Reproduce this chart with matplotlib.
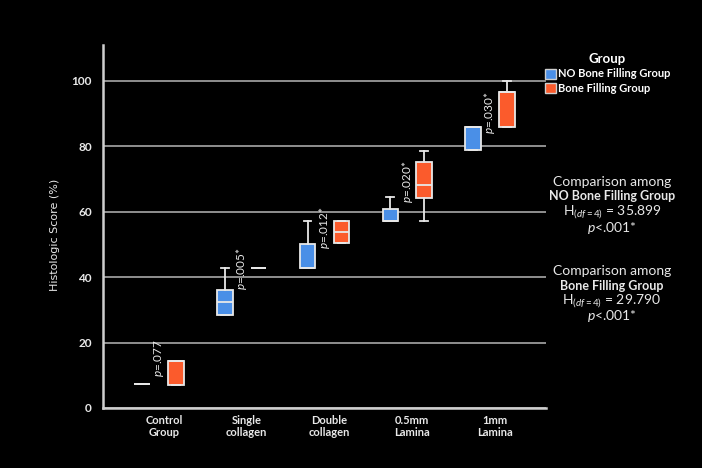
import numpy as np
import matplotlib.pyplot as plt
from matplotlib.patches import Patch

categories = ["Control\nGroup", "Single\ncollagen", "Double\ncollagen", "0.5mm\nLamina", "1mm\nLamina"]

# NO Bone Filling Group (blue)
no_q1 = [7.4, 28.5, 42.9, 57.2, 79.0]
no_med = [7.4, 32.4, 42.9, 57.2, 85.8]
no_q3 = [7.4, 36.0, 50.1, 60.7, 85.8]
no_lo = [7.4, 28.5, 42.9, 57.2, 79.0]
no_hi = [7.4, 42.8, 57.2, 64.5, 85.8]

# Bone Filling Group (orange)
bf_q1 = [6.9, 42.8, 50.5, 64.3, 85.8]
bf_med = [14.5, 42.8, 53.8, 68.1, 96.5]
bf_q3 = [14.5, 42.8, 57.2, 75.2, 96.5]
bf_lo = [6.9, 42.8, 50.5, 57.2, 85.8]
bf_hi = [14.5, 42.8, 57.2, 78.7, 99.9]

p_labels = ["$p$=.077", "$p$=.005*", "$p$=.012*", "$p$=.020*", "$p$=.030*"]
p_y = [9.6, 36.2, 48.5, 62.8, 83.7]

blue = "#4a8fe7"
orange = "#fb5b2c"
fg = "#e8e8e8"

plt.rcParams['font.family'] = ['Lato', 'DejaVu Sans']
plt.rcParams['mathtext.fontset'] = 'custom'
plt.rcParams['mathtext.it'] = 'Lato:italic'
plt.rcParams['mathtext.rm'] = 'Lato'

fig = plt.figure(figsize=(7.02, 4.68), dpi=100, facecolor="black")
ax = fig.add_axes([103/702, 1-408/468, 443/702, 363/468])
ax.set_facecolor("black")

pos = np.arange(1, len(categories) + 1)

def stats(q1, med, q3, lo, hi):
    return [dict(q1=a, med=b, q3=c, whislo=d, whishi=e, fliers=[])
            for a, b, c, d, e in zip(q1, med, q3, lo, hi)]

for st, off, col in [(stats(no_q1, no_med, no_q3, no_lo, no_hi), -0.205, blue),
                     (stats(bf_q1, bf_med, bf_q3, bf_lo, bf_hi), 0.205, orange)]:
    ax.bxp(st, positions=pos + off, widths=0.187, patch_artist=True, showfliers=False,
           boxprops=dict(facecolor=col, edgecolor=fg, linewidth=1.3),
           medianprops=dict(color=fg, linewidth=1.3),
           whiskerprops=dict(color=fg, linewidth=1.3),
           capprops=dict(color=fg, linewidth=1.3), zorder=3)

for x, y, t in zip(pos, p_y, p_labels):
    ax.text(x, y, t, rotation=90, ha="center", va="bottom", color=fg, fontsize=8.5)

ax.set_xlim(0.323, 5.677)
ax.set_ylim(0, 111)
ax.set_yticks([0, 20, 40, 60, 80, 100])
ax.set_xticks(pos + 0.06)
ax.set_xticklabels(categories, fontsize=8, color=fg, fontweight="bold", linespacing=1.1)
ax.tick_params(axis="y", length=0, pad=8, labelcolor=fg, labelsize=8.5)
ax.tick_params(axis="x", length=0, pad=5)
for lab in ax.get_yticklabels():
    lab.set_fontweight("bold")
ax.grid(axis="y", color="#9a9a9a", linewidth=1.3, zorder=0)
ax.set_axisbelow(True)
for s in ["top", "right"]:
    ax.spines[s].set_visible(False)
for s in ["left", "bottom"]:
    ax.spines[s].set_color("#cfcfcf")
    ax.spines[s].set_linewidth(1.8)

ax.set_ylabel("Histologic Score (%)", color=fg, fontsize=8, family="DejaVu Sans")
ax.yaxis.set_label_coords(-0.098, 0.477)

handles = [Patch(facecolor=blue, edgecolor="#cfcfcf"), Patch(facecolor=orange, edgecolor="#cfcfcf")]
leg = fig.legend(handles, ["NO Bone Filling Group", "Bone Filling Group"], title="Group",
                 loc="upper left", bbox_to_anchor=(545/702, 1-53/468), frameon=False,
                 handlelength=1.0, handleheight=1.0, handletextpad=0.15, labelspacing=0.3,
                 borderpad=0, borderaxespad=0, fontsize=8, title_fontsize=9.5)
for t in leg.get_texts():
    t.set_color("white")
    t.set_fontweight("bold")
leg.get_title().set_color("white")
leg.get_title().set_fontweight("bold")

blocks = [
    (186, "NO Bone Filling Group", "35.899"),
    (275, "Bone Filling Group", "29.790"),
]
cx = 612/702
for y0, name, h in blocks:
    fig.text(cx, 1-y0/468, "Comparison among", ha="center", va="baseline", color=fg, fontsize=10)
    fig.text(cx, 1-(y0+14.5)/468, name, ha="center", va="baseline", color=fg, fontsize=9, fontweight="bold")
    fig.text(cx, 1-(y0+29)/468, r"H$_{(df{=}4)}$ = " + h, ha="center", va="baseline", color=fg, fontsize=10)
    fig.text(cx, 1-(y0+45.5)/468, "$p$<.001*", ha="center", va="baseline", color=fg, fontsize=10)

fig.savefig("out.png", dpi=100, facecolor="black")
